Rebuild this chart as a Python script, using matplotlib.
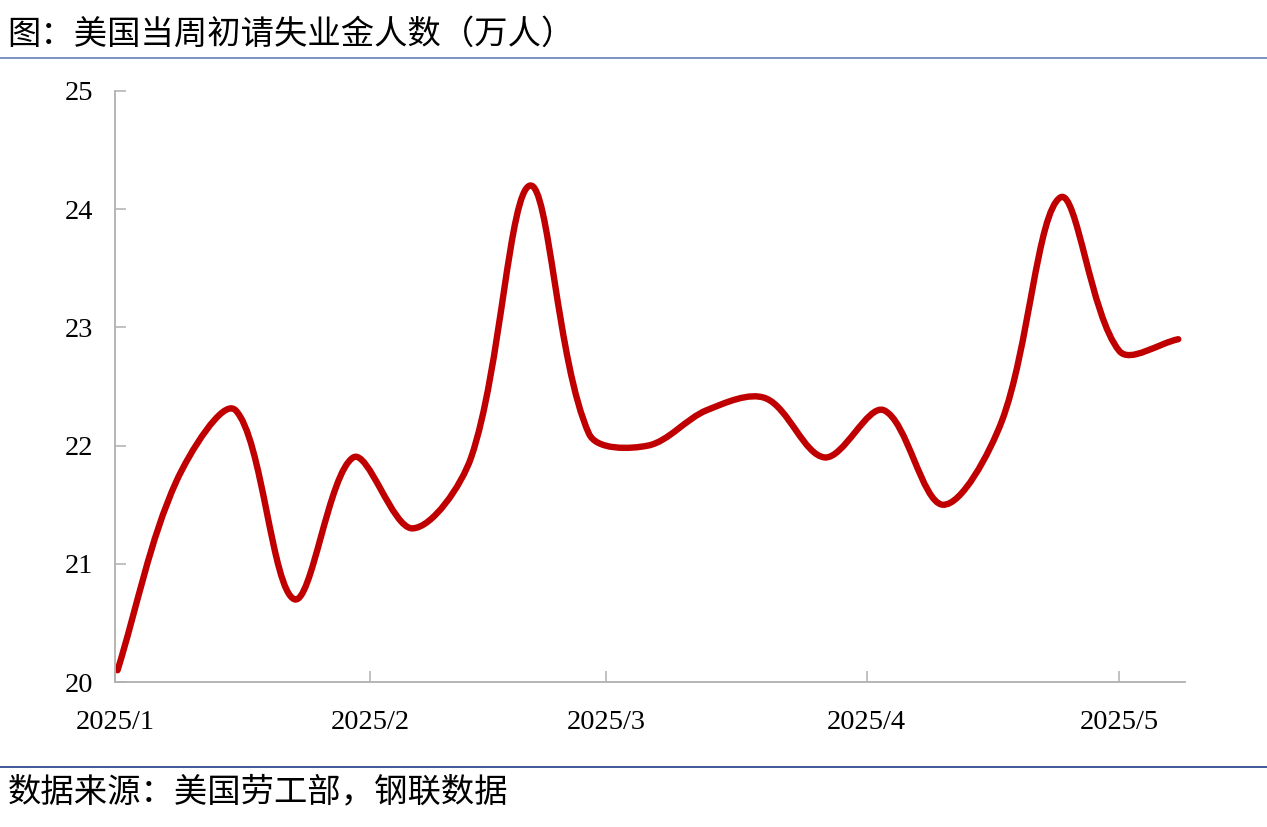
import numpy as np
import pandas as pd
import matplotlib
matplotlib.use('Agg')
import matplotlib.pyplot as plt
import matplotlib.dates as mdates
from matplotlib.path import Path
from matplotlib.patches import PathPatch
from matplotlib.lines import Line2D

plt.rcParams['font.family'] = ['Noto Sans CJK SC', 'DejaVu Sans']

# Weekly initial jobless claims (10k persons)
dates = pd.date_range('2025-01-04', periods=19, freq='7D')
claims = [20.1, 21.7, 22.3, 20.7, 21.9, 21.3, 21.9, 24.2, 22.1, 22.0,
          22.3, 22.4, 21.9, 22.3, 21.5, 22.2, 24.1, 22.8, 22.9]
tick_dates = pd.to_datetime(['2025-01-03', '2025-02-03', '2025-03-03', '2025-04-03', '2025-05-03'])
tick_labels = ['2025/1', '2025/2', '2025/3', '2025/4', '2025/5']

title = '图：美国当周初请失业金人数（万人）'
source = '数据来源：美国劳工部，钢联数据'

fig = plt.figure(figsize=(12.67, 8.27), dpi=100)
ax = fig.add_axes([0.0908, 0.1753, 0.8445, 0.7147])

x = mdates.date2num(dates)
ax.set_xlim(x[0] - 0.3, x[-1] + 0.8)
ax.set_ylim(20, 25)

# smoothed line like Excel: Bezier segments, control points scaled by chord length in pixels
pix = ax.transData.transform(np.column_stack([x, claims]))
n = len(pix)
verts = [pix[0]]
codes = [Path.MOVETO]
for i in range(n - 1):
    p0 = pix[i - 1] if i > 0 else pix[i]
    p1 = pix[i]
    p2 = pix[i + 1]
    p3 = pix[i + 2] if i + 2 < n else pix[i + 1]
    d01 = np.hypot(*(p1 - p0))
    d12 = np.hypot(*(p2 - p1))
    d23 = np.hypot(*(p3 - p2))
    c1 = p1 + (p2 - p0) * d12 / (d01 + d12) / 3
    c2 = p2 - (p3 - p1) * d12 / (d12 + d23) / 3
    verts += [c1, c2, p2]
    codes += [Path.CURVE4] * 3
verts = ax.transData.inverted().transform(np.array(verts))
patch = PathPatch(Path(verts, codes), facecolor='none', edgecolor='#c00000',
                  lw=4.6, capstyle='round', joinstyle='round')
ax.add_patch(patch)

ax.set_yticks([20, 21, 22, 23, 24, 25])
ticks = mdates.date2num(tick_dates)
ticks[0] = x[0] - 0.3
ax.set_xticks(ticks)
ax.set_xticklabels(tick_labels)

for s in ['top', 'right']:
    ax.spines[s].set_visible(False)
for s in ['left', 'bottom']:
    ax.spines[s].set_color('#b0b0b0')
    ax.spines[s].set_linewidth(1.3)

ax.tick_params(axis='both', direction='in', colors='#b0b0b0', length=8, width=1.1,
               labelcolor='black', labelsize=20.5)
ax.tick_params(axis='y', pad=16)
ax.tick_params(axis='x', pad=20)
for lab in ax.get_xticklabels() + ax.get_yticklabels():
    lab.set_fontfamily('Liberation Serif')

# header and footer
fig.text(0.006, 0.958, title, fontsize=24, va='center', ha='left')
fig.add_artist(Line2D([0, 1], [1 - 58 / 827, 1 - 58 / 827], color='#7a94c4', lw=1.4))
fig.add_artist(Line2D([0, 1], [1 - 767 / 827, 1 - 767 / 827], color='#1f3c88', lw=1.2))
fig.text(0.006, 0.042, source, fontsize=24, va='center', ha='left')

fig.savefig('out.png', dpi=100, facecolor='white')
